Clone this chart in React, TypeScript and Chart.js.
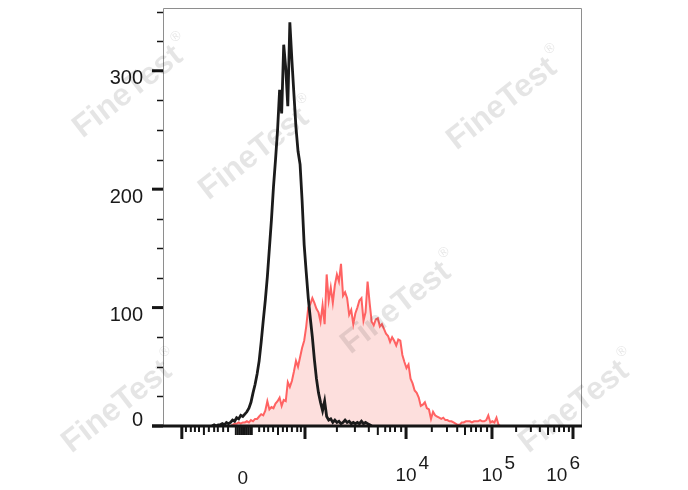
import React, { useEffect, useRef } from "react";
import { Chart, registerables } from "chart.js";

Chart.register(...registerables);

// ---- data (display channels 0..1024, histogram bins of 5 channels) ----
const BIN_WIDTH = 5;
const X_MIN = 0;
const X_MAX = 1024;
const Y_MIN = 0;
const Y_MAX = 353;

// isotype control (black)
const CONTROL_START = 120;
const controlCounts = [
  0, 1, 0, 1, 1, 2, 1, 3, 2, 3, 5, 4, 7, 6, 9, 8, 10, 12, 15, 20,
  28, 35, 44, 55, 71, 89, 106, 126, 150, 174, 202, 225, 250, 284, 264, 322, 302, 270, 341, 309,
  280, 252, 232, 221, 190, 153, 130, 108, 91, 75, 56, 40, 28, 20, 13, 21, 8, 5, 6, 3,
  5, 3, 4, 2, 3, 5, 3, 4, 2, 3, 2, 3, 2, 4, 2, 3, 2, 1, 0,
];

// stained sample (red, filled)
const STAINED_START = 165;
const stainedCounts = [
  0, 1, 2, 2, 3, 2, 3, 3, 4, 3, 5, 4, 6, 6, 8, 10, 9, 13, 21, 14,
  16, 15, 19, 21, 24, 17, 22, 21, 37, 33, 38, 46, 55, 50, 58, 66, 72, 84, 100, 103,
  108, 104, 99, 96, 88, 102, 86, 128, 106, 117, 104, 119, 128, 122, 137, 110, 113, 108, 94, 98,
  86, 95, 100, 106, 108, 89, 96, 122, 104, 88, 85, 90, 91, 84, 86, 82, 78, 76, 71, 75,
  72, 68, 73, 72, 60, 54, 49, 52, 40, 36, 30, 28, 24, 17, 18, 20, 15, 14, 6, 12,
  9, 8, 7, 6, 7, 5, 5, 4, 4, 3, 2, 1, 1, 3, 3, 4, 4, 4, 3, 4,
  4, 4, 5, 4, 4, 5, 9, 3, 4, 3, 7, 1, 0,
];

// y axis ticks
const yMajorTicks = [0, 100, 200, 300];
const yLabels = ["0", "100", "200", "300"];
const yMinorTicks = [25, 50, 75, 125, 150, 175, 225, 250, 275, 325, 350];

// x axis ticks (biexponential display, in channels)
const xMajorTicks = [46, 347, 594, 804, 1002];
const xMediumTicks = [100, 178, 183, 188, 193, 198, 203, 208, 213, 217, 281, 525, 738, 941];
const xMinorTicks = [
  56, 68, 78, 88, 112, 125, 134, 147, 159,
  235, 247, 257, 269, 293, 303, 315, 328, 337,
  425, 469, 503, 543, 555, 567, 582,
  657, 694, 719, 753, 765, 777, 792,
  863, 899, 921, 956, 968, 980, 992,
];
const xLabelValues = [195, 594, 804, 1002];
const xLabelBase = ["0", "10", "10", "10"];
const xLabelExp = ["", "4", "5", "6"];

const WATERMARK_TEXT = "FineTest";
const watermarkCenters: [number, number][] = [
  [128, 92],
  [254, 154],
  [502, 104],
  [396, 308],
  [117, 407],
  [574, 407],
];

const FONT = '"Liberation Sans", Arial, sans-serif';

const decorPlugin = {
  id: "decor",
  afterDatasetsDraw(chart: any) {
    const { ctx, chartArea: a, scales } = chart;
    const xs = scales.x;
    const ys = scales.y;
    ctx.save();

    // frame (left, top, right)
    ctx.strokeStyle = "#8e8e8e";
    ctx.lineWidth = 1;
    ctx.beginPath();
    ctx.moveTo(a.left + 0.5, a.bottom);
    ctx.lineTo(a.left + 0.5, a.top + 0.5);
    ctx.lineTo(a.right - 0.5, a.top + 0.5);
    ctx.lineTo(a.right - 0.5, a.bottom);
    ctx.stroke();

    // bottom axis (thick)
    ctx.strokeStyle = "#151515";
    ctx.lineWidth = 3;
    ctx.beginPath();
    ctx.moveTo(a.left - 11, a.bottom);
    ctx.lineTo(a.right, a.bottom);
    ctx.stroke();

    // y ticks
    ctx.lineWidth = 3;
    yMajorTicks.forEach((v) => {
      const py = ys.getPixelForValue(v);
      ctx.beginPath();
      ctx.moveTo(a.left - 11, py);
      ctx.lineTo(a.left, py);
      ctx.stroke();
    });
    ctx.lineWidth = 1.5;
    yMinorTicks.forEach((v) => {
      const py = Math.round(ys.getPixelForValue(v)) + 0.5;
      ctx.beginPath();
      ctx.moveTo(a.left - 6, py);
      ctx.lineTo(a.left, py);
      ctx.stroke();
    });

    // y labels
    ctx.fillStyle = "#1a1a1a";
    ctx.font = `20px ${FONT}`;
    ctx.textAlign = "right";
    ctx.textBaseline = "middle";
    yMajorTicks.forEach((v, i) => {
      const py = Math.min(ys.getPixelForValue(v) + 8, a.bottom - 6);
      ctx.fillText(yLabels[i], a.left - 20, py);
    });

    // x ticks
    const drawXTicks = (vals: number[], len: number, w: number) => {
      ctx.lineWidth = w;
      vals.forEach((v) => {
        const px = xs.getPixelForValue(v);
        ctx.beginPath();
        ctx.moveTo(px, a.bottom);
        ctx.lineTo(px, a.bottom + len);
        ctx.stroke();
      });
    };
    ctx.strokeStyle = "#151515";
    drawXTicks(xMinorTicks, 6, 2);
    drawXTicks(xMediumTicks, 9, 2);
    drawXTicks(xMajorTicks, 13, 3);

    // x labels
    ctx.font = `19px ${FONT}`;
    ctx.textAlign = "left";
    ctx.textBaseline = "alphabetic";
    xLabelValues.forEach((v, i) => {
      const px = xs.getPixelForValue(v);
      const base = xLabelBase[i];
      const exp = xLabelExp[i];
      const bw = ctx.measureText(base).width;
      const ew = exp ? ctx.measureText(exp).width : 0;
      let left = px - bw / 2;
      if (left + bw + ew + 2 > a.right) left = a.right - 2 - bw - ew - 2;
      if (!exp) {
        ctx.fillText(base, left, a.bottom + 58);
      } else {
        ctx.fillText(base, left, a.bottom + 55);
        ctx.fillText(exp, left + bw + 2, a.bottom + 43);
      }
    });

    // watermarks
    ctx.fillStyle = "rgba(0,0,0,0.1)";
    watermarkCenters.forEach(([cx, cy]) => {
      ctx.save();
      ctx.translate(cx, cy);
      ctx.rotate((-38 * Math.PI) / 180);
      ctx.font = `bold 32px ${FONT}`;
      ctx.textAlign = "center";
      ctx.textBaseline = "middle";
      ctx.fillText(WATERMARK_TEXT, 0, 0);
      const w = ctx.measureText(WATERMARK_TEXT).width;
      ctx.font = `14px ${FONT}`;
      ctx.textAlign = "left";
      ctx.fillText("\u00AE", w / 2 + 2, -14);
      ctx.restore();
    });

    ctx.restore();
  },
};

export default function App() {
  const ref = useRef<HTMLCanvasElement | null>(null);

  useEffect(() => {
    if (!ref.current) return;
    const control = controlCounts.map((c, i) => ({ x: CONTROL_START + i * BIN_WIDTH, y: c }));
    const stained = stainedCounts.map((c, i) => ({ x: STAINED_START + i * BIN_WIDTH, y: c }));
    const chart = new Chart(ref.current, {
      type: "line",
      data: {
        datasets: [
          {
            label: "Isotype control",
            data: control,
            borderColor: "#1b1b1b",
            borderWidth: 2.8,
            pointRadius: 0,
            tension: 0,
            fill: false,
            order: 0,
          },
          {
            label: "Stained",
            data: stained,
            borderColor: "#ff6262",
            backgroundColor: "#fddfdd",
            borderWidth: 2,
            pointRadius: 0,
            tension: 0,
            fill: "origin",
            order: 1,
          },
        ],
      },
      options: {
        responsive: false,
        animation: false,
        devicePixelRatio: 1,
        layout: { padding: { left: 0, top: 8, right: 106, bottom: 0 } },
        plugins: { legend: { display: false }, tooltip: { enabled: false } },
        scales: {
          x: {
            type: "linear",
            min: X_MIN,
            max: X_MAX,
            ticks: { display: false },
            grid: { display: false },
            border: { display: false },
            afterFit: (s: any) => {
              s.height = 64;
            },
          },
          y: {
            min: Y_MIN,
            max: Y_MAX,
            ticks: { display: false },
            grid: { display: false },
            border: { display: false },
            afterFit: (s: any) => {
              s.width = 163;
            },
          },
        },
      },
      plugins: [decorPlugin],
    });
    return () => chart.destroy();
  }, []);

  return (
    <div style={{ position: "absolute", left: 0, top: 0, width: 688, height: 490, background: "#fff" }}>
      <canvas ref={ref} width={688} height={490} style={{ display: "block" }} />
    </div>
  );
}
